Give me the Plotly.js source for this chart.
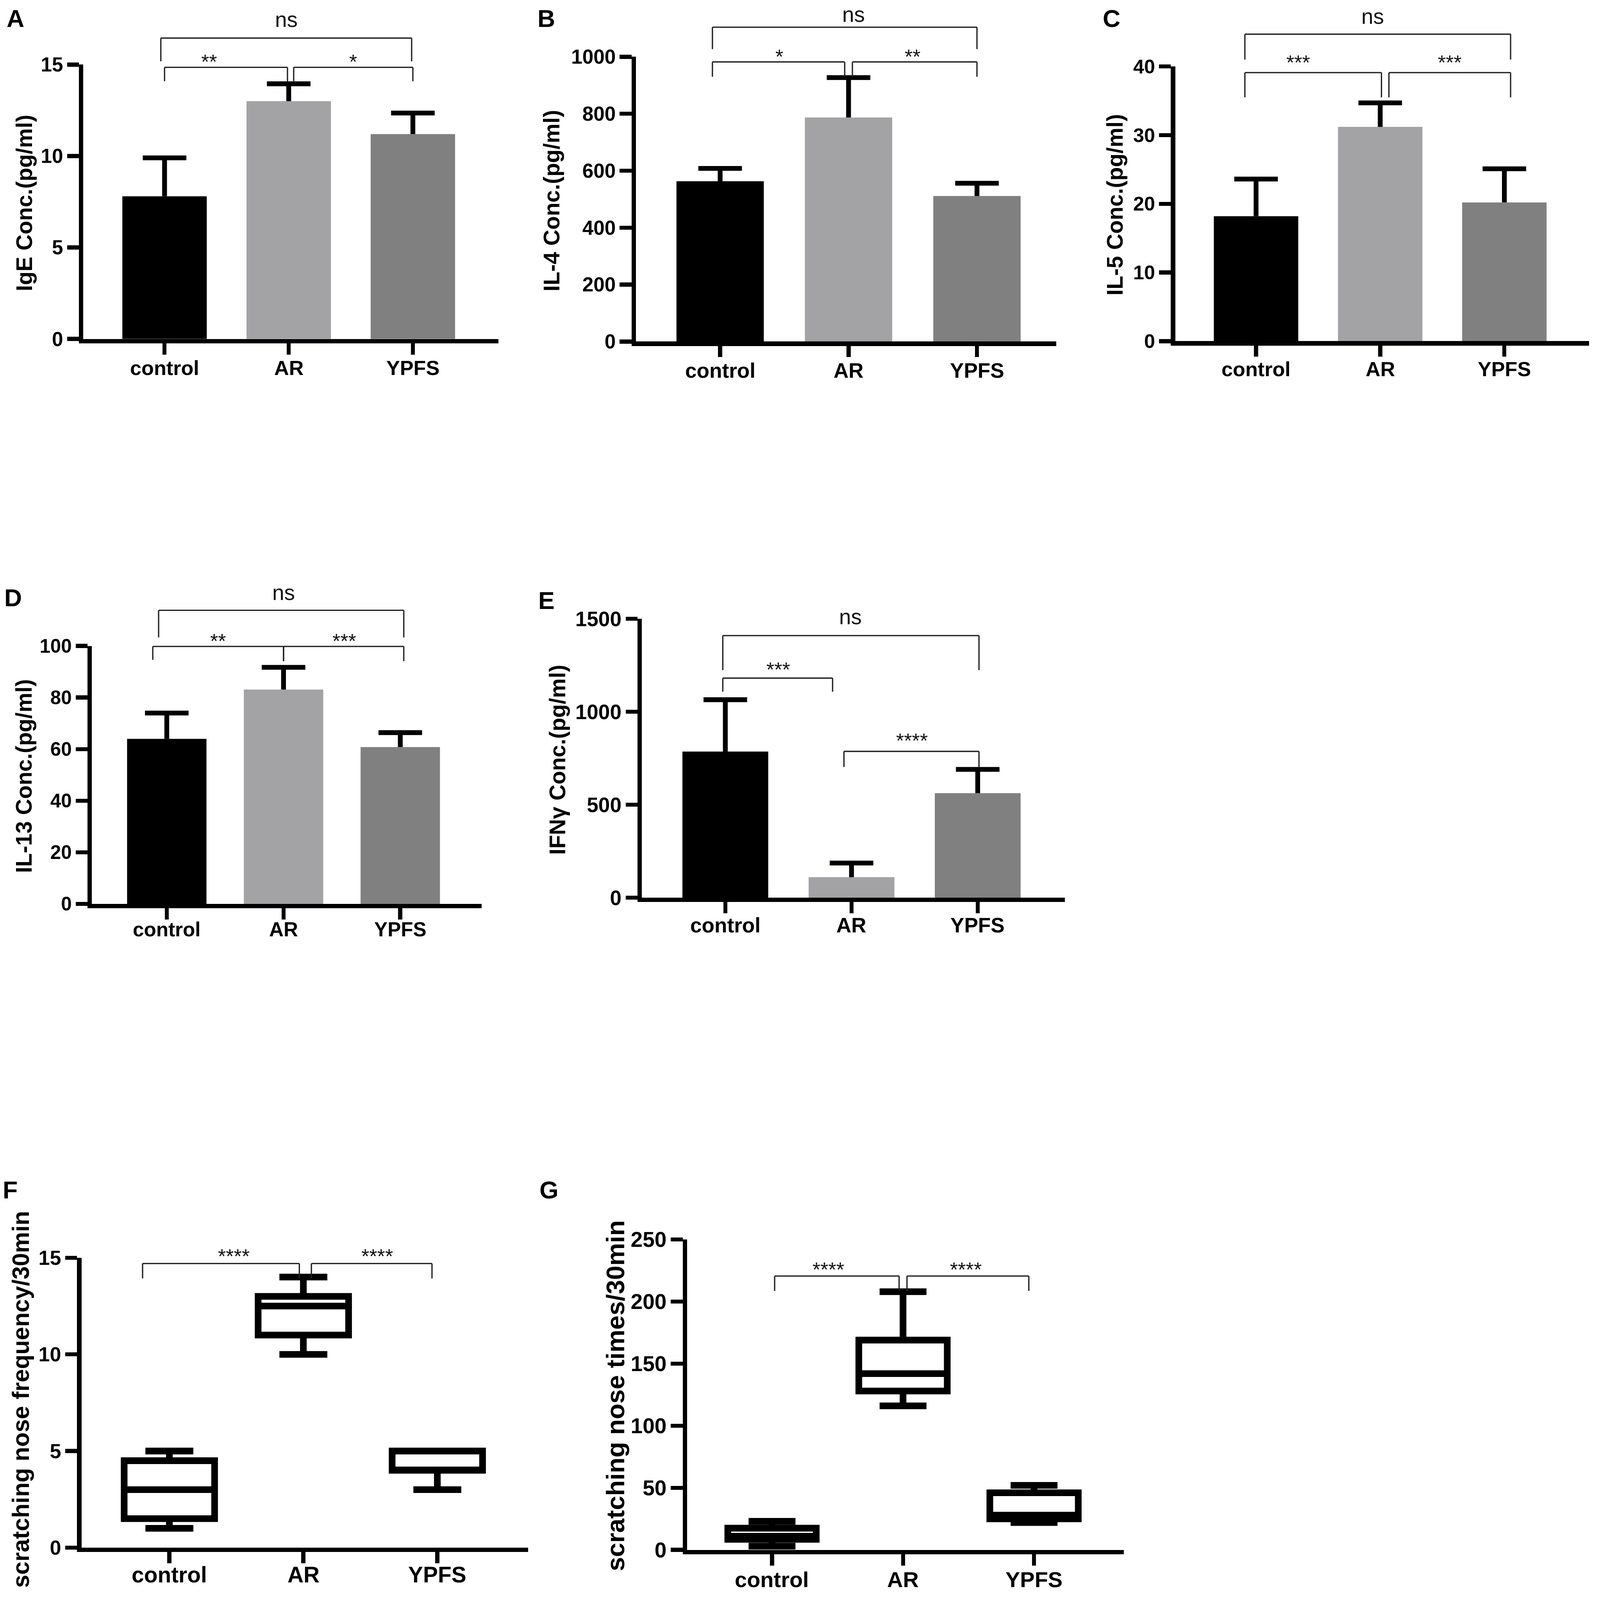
<!DOCTYPE html>
<html><head><meta charset="utf-8">
<script src="https://cdn.plot.ly/plotly-3.0.1.min.js"></script>
<style>html,body{margin:0;padding:0;background:#fff;overflow:hidden}</style>
</head><body><div id="chart"></div>
<script>
// ---------------- data ----------------
const categories = ['control', 'AR', 'YPFS'];

const igeMean  = [7.8, 13.0, 11.2];
const igeSem   = [2.1, 0.95, 1.15];
const il4Mean  = [563, 787, 511];
const il4Sem   = [45, 140, 45];
const il5Mean  = [18.2, 31.2, 20.2];
const il5Sem   = [5.4, 3.5, 4.9];
const il13Mean = [64.0, 83.1, 60.8];
const il13Sem  = [10.0, 8.6, 5.6];
const ifnMean  = [786, 110, 562];
const ifnSem   = [279, 76, 128];

const freqMin = [1, 10, 3];
const freqQ1  = [1.5, 11, 4];
const freqMed = [3, 12.5, 4];
const freqQ3  = [4.5, 13, 5];
const freqMax = [5, 14, 5];

const timesMin = [3, 116, 22];
const timesQ1  = [8.5, 128, 25];
const timesMed = [11, 142, 28];
const timesQ3  = [17.5, 169, 46];
const timesMax = [23, 208, 52];

const ticksIgE  = [0, 5, 10, 15];
const ticksIL4  = [0, 200, 400, 600, 800, 1000];
const ticksIL5  = [0, 10, 20, 30, 40];
const ticksIL13 = [0, 20, 40, 60, 80, 100];
const ticksIFN  = [0, 500, 1000, 1500];
const ticksFreq = [0, 5, 10, 15];
const ticksTimes = [0, 50, 100, 150, 200, 250];

const barColors = ['#000000', '#a3a3a6', '#808080'];

// ---------------- layout geometry (pixels of the 4317x4310 reference) ----------------
const W = 4317, H = 4310;
const VW = window.innerWidth || W, VH = window.innerHeight || H;
const S = Math.min(VW / W, VH / H);
const FONT = 'Liberation Sans, Arial, Helvetica, sans-serif';

const panels = [
  {letter:'A', kind:'bar', mean:igeMean, sem:igeSem, ticks:ticksIgE, title:'IgE Conc.(pg/ml)',
   xl:219, xr:1345, c0:444, sp:335, y0:919, yt:174, L:[42,49], T:[65,547], ts:60, cf:55, tf:54, co:72,
   br:[{x0:0,x1:0.99,y:14.85,l0:14.09,l1:14.09,s:'**',tx:0.36,ty:15.39},
       {x0:1.04,x1:2.0,y:14.85,l0:14.09,l1:14.09,s:'*',tx:1.52,ty:15.39},
       {x0:-0.03,x1:1.99,y:16.45,l0:15.18,l1:15.18,s:'ns',tx:0.98,ty:17.37}]},
  {letter:'B', kind:'bar', mean:il4Mean, sem:il4Sem, ticks:ticksIL4, title:'IL-4 Conc.(pg/ml)',
   xl:1710, xr:2850, c0:1943, sp:346.5, y0:926, yt:153, L:[1474,49], T:[1488,540], ts:60, cf:56, tf:54, co:72,
   br:[{x0:-0.06,x1:0.97,y:982,l0:930,l1:930,s:'*',tx:0.46,ty:1016},
       {x0:1.03,x1:2.0,y:982,l0:930,l1:930,s:'**',tx:1.5,ty:1016},
       {x0:-0.06,x1:2.0,y:1104,l0:1027,l1:1027,s:'ns',tx:1.04,ty:1142}]},
  {letter:'C', kind:'bar', mean:il5Mean, sem:il5Sem, ticks:ticksIL5, title:'IL-5 Conc.(pg/ml)',
   xl:3165, xr:4287, c0:3389, sp:335, y0:925, yt:179, L:[2999,49], T:[3008,552], ts:60, cf:55, tf:53, co:70,
   br:[{x0:-0.09,x1:1.01,y:39.1,l0:35.5,l1:35.5,s:'***',tx:0.34,ty:41.2},
       {x0:1.07,x1:2.05,y:39.1,l0:35.5,l1:35.5,s:'***',tx:1.56,ty:41.2},
       {x0:-0.09,x1:2.05,y:44.7,l0:41.0,l1:41.0,s:'ns',tx:0.94,ty:47.0}]},
  {letter:'D', kind:'bar', mean:il13Mean, sem:il13Sem, ticks:ticksIL13, title:'IL-13 Conc.(pg/ml)',
   xl:242, xr:1300, c0:450, sp:315, y0:2441, yt:1740, L:[35,1610], T:[65,2091], ts:60, cf:54, tf:52, co:63,
   br:[{x0:-0.12,x1:1.0,y:99.8,l0:94.6,l1:94.1,s:'**',tx:0.44,ty:103.6},
       {x0:1.0,x1:2.03,y:99.8,l0:94.1,l1:94.1,s:'***',tx:1.52,ty:103.6},
       {x0:-0.07,x1:2.03,y:113.8,l0:103.3,l1:103.3,s:'ns',tx:1.0,ty:119.9}]},
  {letter:'E', kind:'bar', mean:ifnMean, sem:ifnSem, ticks:ticksIFN, title:'IFNγ Conc.(pg/ml)',
   xl:1726, xr:2873, c0:1957, sp:340.5, y0:2424, yt:1667, L:[1474,1617], T:[1504,2047], ts:60, cf:56, tf:56, co:68,
   br:[{x0:-0.02,x1:0.85,y:1181,l0:1108,l1:1108,s:'***',tx:0.42,ty:1252},
       {x0:0.94,x1:2.01,y:787,l0:703,l1:703,s:'****',tx:1.48,ty:869},
       {x0:-0.02,x1:2.01,y:1410,l0:1224,l1:1224,s:'ns',tx:0.99,ty:1500}]},
  {letter:'F', kind:'box', box:[freqMin,freqQ1,freqMed,freqQ3,freqMax], ticks:ticksFreq, title:'scratching nose frequency/30min',
   xl:214, xr:1425, c0:457, sp:361.5, y0:4175, yt:3388, L:[27,3205], T:[56,3770], ts:64, cf:60, tf:55, co:67,
   br:[{x0:-0.2,x1:0.97,y:14.7,l0:13.93,l1:13.93,s:'****',tx:0.48,ty:15.31},
       {x0:1.06,x1:1.96,y:14.7,l0:13.93,l1:13.93,s:'****',tx:1.55,ty:15.31}]},
  {letter:'G', kind:'box', box:[timesMin,timesQ1,timesMed,timesQ3,timesMax], ticks:ticksTimes, title:'scratching nose times/30min',
   xl:1848, xr:3032, c0:2083, sp:353.5, y0:4181, yt:3339, L:[1481,3205], T:[1660,3760], ts:69, cf:59, tf:58, co:74,
   br:[{x0:0.02,x1:0.97,y:220.6,l0:208.6,l1:208.6,s:'****',tx:0.43,ty:229.3},
       {x0:1.03,x1:1.96,y:220.6,l0:208.6,l1:208.6,s:'****',tx:1.48,ty:229.3}]}
];

const LW = 12;
const data = [];
const layout = {
  width: VW, height: VH, margin: {l:0, r:0, t:0, b:0, pad:0},
  paper_bgcolor: '#fff', plot_bgcolor: 'rgba(0,0,0,0)',
  showlegend: false, shapes: [], annotations: [],
  font: {family: FONT, color: '#000'}
};

panels.forEach((p, i) => {
  const n = i === 0 ? '' : String(i + 1);
  const xa = 'x' + n, ya = 'y' + n;
  const ymax = p.ticks[p.ticks.length - 1];
  const dl = p.xl + LW / 2;
  const xr0 = (dl - p.c0) / p.sp, xr1 = (p.xr - p.c0) / p.sp;

  layout['xaxis' + n] = {
    domain: [dl / W, p.xr / W], anchor: ya, type: 'category', categoryarray: categories,
    range: [xr0, xr1], showline: true, linewidth: LW * S, linecolor: '#000',
    ticks: 'outside', ticklen: 30 * S, tickwidth: 11 * S, tickcolor: '#000',
    showticklabels: false,
    showgrid: false, zeroline: false, fixedrange: true
  };
  layout['yaxis' + n] = {
    domain: [1 - (p.y0 - LW / 2) / H, 1 - p.yt / H], anchor: xa,
    range: [0, ymax], tickvals: p.ticks, ticktext: p.ticks.map(String),
    showline: true, linewidth: LW * S, linecolor: '#000',
    ticks: 'outside', ticklen: 32 * S, tickwidth: 11 * S, tickcolor: '#000',
    showgrid: false, zeroline: false, fixedrange: true,
    tickfont: {family: FONT, size: p.tf * S, color: '#000', weight: 'bold'}
  };

  // category labels under the x axis
  categories.forEach(c => {
    layout.annotations.push({
      xref: xa, yref: ya + ' domain', x: c, y: 0, text: c, showarrow: false,
      xanchor: 'center', yanchor: 'middle', yshift: -(p.co + LW / 2) * S,
      font: {family: FONT, size: p.cf * S, color: '#000', weight: 'bold'}
    });
  });

  if (p.kind === 'bar') {
    data.push({
      type: 'bar', x: categories, y: p.mean, xaxis: xa, yaxis: ya, width: 0.68,
      marker: {color: barColors, line: {width: 0}},
      error_y: {type: 'data', symmetric: false, array: p.sem, arrayminus: p.sem.map(() => 0),
                color: '#000', thickness: 13 * S, width: 0}
    });
    data.push({
      type: 'scatter', mode: 'markers', x: categories,
      y: p.mean.map((m, k) => m + p.sem[k]), xaxis: xa, yaxis: ya, cliponaxis: false,
      marker: {symbol: 'line-ew', size: 84 * S, color: '#000', line: {width: 13 * S, color: '#000'}}
    });
  } else {
    const [mn, q1, md, q3, mx] = p.box;
    data.push({
      type: 'box', x: categories, q1: q1, median: md, q3: q3, lowerfence: mn, upperfence: mx,
      xaxis: xa, yaxis: ya, width: 0.675, whiskerwidth: 0.53, boxpoints: false,
      fillcolor: '#ffffff', line: {color: '#000', width: 18 * S}
    });
  }

  // significance brackets (fractions of the y domain, so they may rise above the axis top)
  const bl = {color: '#222', width: 3.5 * S};
  const f = v => v / ymax;
  p.br.forEach(b => {
    layout.shapes.push(
      {type:'line', xref:xa, yref:ya + ' domain', x0:b.x0, x1:b.x1, y0:f(b.y), y1:f(b.y), line:bl},
      {type:'line', xref:xa, yref:ya + ' domain', x0:b.x0, x1:b.x0, y0:f(b.y), y1:f(b.l0), line:bl},
      {type:'line', xref:xa, yref:ya + ' domain', x0:b.x1, x1:b.x1, y0:f(b.y), y1:f(b.l1), line:bl}
    );
    const isNs = b.s === 'ns';
    layout.annotations.push({
      xref: xa, yref: ya + ' domain', x: b.tx, y: f(b.ty), text: b.s, showarrow: false,
      xanchor: 'center', yanchor: 'middle', yshift: (isNs ? 5 : -12) * S,
      font: {family: FONT, size: (isNs ? 58 : 55) * S, color: '#111'}
    });
  });

  // panel letter
  layout.annotations.push({
    xref: 'paper', yref: 'paper', x: p.L[0] / W, y: 1 - p.L[1] / H, text: p.letter,
    showarrow: false, xanchor: 'center', yanchor: 'middle',
    font: {family: FONT, size: 66 * S, color: '#000', weight: 'bold'}
  });
  // axis title
  layout.annotations.push({
    xref: 'paper', yref: 'paper', x: p.T[0] / W, y: 1 - p.T[1] / H, text: p.title,
    showarrow: false, textangle: -90, xanchor: 'center', yanchor: 'middle',
    font: {family: FONT, size: p.ts * S, color: '#000', weight: 'bold'}
  });
});

Plotly.newPlot('chart', data, layout, {staticPlot: true, displayModeBar: false});
</script>
</body></html>
